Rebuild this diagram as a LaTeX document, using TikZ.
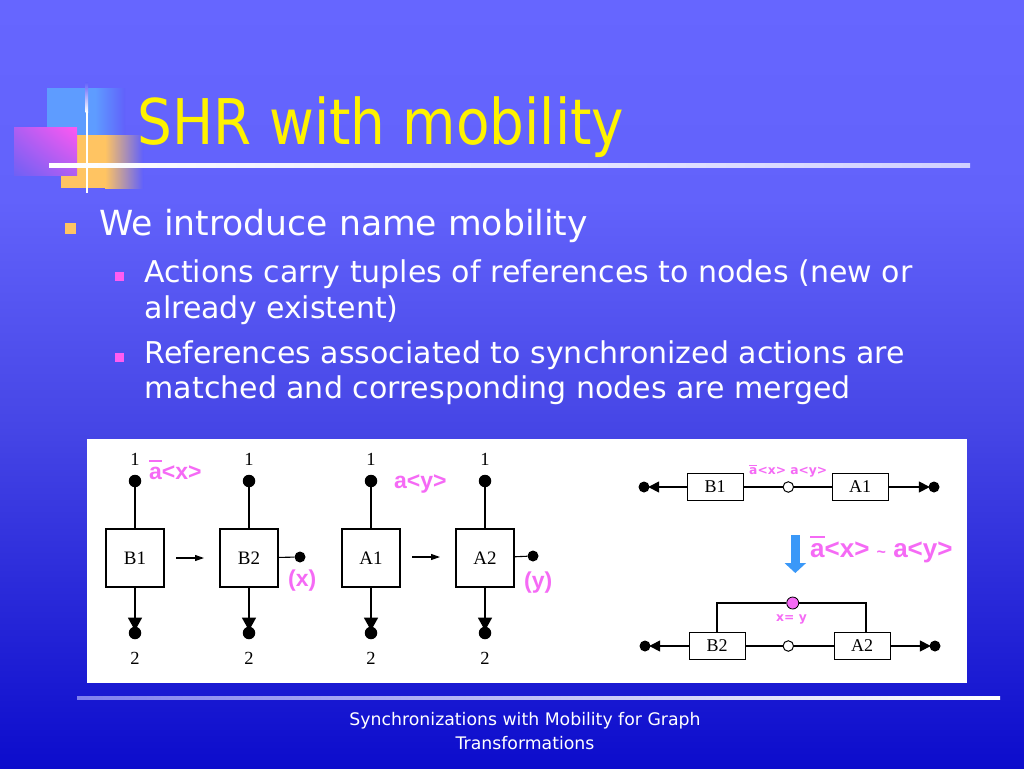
\documentclass[tikz,border=0pt]{standalone}
\usepackage{fontspec}
\setmainfont{DejaVu Sans}
\newfontfamily\titlefont{DejaVu Sans}[FakeStretch=0.87]
\newfontfamily\arialfont{Liberation Sans}
\newfontfamily\serfont{Liberation Serif}
\usetikzlibrary{arrows.meta,calc,shadings}

\definecolor{bgtop}{HTML}{6666FF}
\definecolor{bgup}{HTML}{6262FB}
\definecolor{bgmid}{HTML}{4646E6}
\definecolor{bgbot}{HTML}{0C0CCC}
\definecolor{bgdeco}{HTML}{6161FB}
\definecolor{decblue}{HTML}{5E9CFF}
\definecolor{decorange}{HTML}{FFC462}
\definecolor{pinkA}{HTML}{FF58F2}
\definecolor{pinkB}{HTML}{B05EF2}
\definecolor{pinkC}{HTML}{7060F4}
\definecolor{labmag}{HTML}{F56AF5}
\definecolor{bulmag}{HTML}{FF5CF2}
\definecolor{arrblue}{HTML}{3A98F8}
\definecolor{footline}{HTML}{8080EE}
\definecolor{lineend}{HTML}{D0D0FF}

\pgfdeclareverticalshading{slidebg}{100bp}{color(0bp)=(bgbot); color(25bp)=(bgbot); color(47.3bp)=(bgmid); color(62bp)=(bgup); color(75bp)=(bgtop); color(100bp)=(bgtop)}

\newcommand\oaw[1]{\leavevmode\rlap{\rule[0.74em]{#1}{0.07em}}a}

\tikzset{
  lbox/.style={draw, line width=1.2pt, minimum size=58pt, inner sep=0pt, font=\serfont\fontsize{19}{19}\selectfont},
  ldot/.style={circle, fill=black, inner sep=0pt, minimum size=12.5pt},
  sdot/.style={circle, fill=black, inner sep=0pt, minimum size=11pt},
  numlab/.style={inner sep=0pt, font=\serfont\fontsize{18.5}{18.5}\selectfont},
  thinline/.style={line width=1.1pt},
  downarr/.style={line width=1.8pt, shorten >=-4pt, -{Triangle[width=14pt,length=13pt]}},
  midarr/.style={line width=1.1pt, -{Triangle[width=6pt,length=9pt]}},
  mlab/.style={inner sep=0pt, text=labmag, font=\arialfont\bfseries\fontsize{23}{23}\selectfont},
  biglab/.style={inner sep=0pt, text=labmag, font=\arialfont\bfseries\fontsize{26}{26}\selectfont},
  smlab/.style={inner sep=0pt, text=labmag, font=\bfseries\fontsize{12.3}{12.3}\selectfont},
  rbox/.style={draw, line width=1pt, minimum width=56pt, minimum height=27.5pt, inner sep=0pt, font=\serfont\fontsize{18}{18}\selectfont},
  rdot/.style={circle, fill=black, inner sep=0pt, minimum size=11pt},
  ocirc/.style={circle, draw, fill=white, line width=1pt, inner sep=0pt, minimum size=10.5pt},
  rarr/.style={line width=1.5pt, shorten >=-1.5pt, -{Triangle[width=11pt,length=11pt]}},
  mdotst/.style={circle, draw, fill=labmag, line width=0.8pt, minimum size=12pt, inner sep=0pt},
  bodyA/.style={anchor=base west, inner sep=0pt, text=white, font=\fontsize{34.6}{40}\selectfont},
  bodyB/.style={anchor=base west, inner sep=0pt, text=white, font=\fontsize{30}{36}\selectfont},
  footst/.style={anchor=base, inner sep=0pt, text=white, font=\fontsize{17.3}{20}\selectfont},
}

\begin{document}
\begin{tikzpicture}[x=1pt,y=-1pt]
\useasboundingbox (0,0) rectangle (1024,768);
\fill[shading=slidebg] (0,0) rectangle (1024,768);

% title decoration
\fill[decblue] (47,88) rectangle (95,136);
\shade[left color=decblue, right color=bgdeco] (95,88) rectangle (125,136);
\fill[decorange] (61,135) rectangle (105,188);
\shade[left color=decorange, right color=bgdeco] (105,135) rectangle (143,188);
\shade[upper right=pinkA, upper left=pinkB, lower right=pinkB, lower left=pinkC] (14,127) rectangle (77,175);
\shade[top color=bgdeco, bottom color=white] (85.5,82) rectangle (88,112);
\fill[white] (85.5,112) rectangle (88,193);
\shade[left color=white, middle color=white, right color=lineend] (49,163.5) rectangle (970,167);

% title
\node[anchor=base west, inner sep=0pt, text=yellow, font=\titlefont\fontsize{63}{63}\selectfont] (title) at (137.5,144) {SHR with mobility};

% bullets
\node[fill=decorange, minimum size=11pt, inner sep=0pt] (bul1) at (70.3,228.5) {};
\node[bodyA] (t1) at (99.5,235) {We introduce name mobility};
\node[fill=bulmag, minimum size=9pt, inner sep=0pt] (bul2) at (119.5,276.5) {};
\node[bodyB] (t2a) at (144.5,282) {Actions carry tuples of references to nodes (new or};
\node[bodyB] (t2b) at (144.5,318) {already existent)};
\node[fill=bulmag, minimum size=9pt, inner sep=0pt] (bul3) at (119.5,357.5) {};
\node[bodyB] (t3a) at (144.5,363) {References associated to synchronized actions are};
\node[bodyB] (t3b) at (144.5,398) {matched and corresponding nodes are merged};

% white panel
\fill[white] (87,439) rectangle (967,683);

% left diagram
\node[lbox] (B1) at (135,558) {B1};
\node[lbox] (B2) at (249,558) {B2};
\node[lbox] (A1) at (371,558) {A1};
\node[lbox] (A2) at (485,558) {A2};
\foreach \n/\x in {B1/135, B2/249, A1/371, A2/485} {
  \node[ldot] (\n t) at (\x,481) {};
  \node[ldot] (\n b) at (\x,633) {};
  \node[numlab] (\n one) at (\x,459) {1};
  \node[numlab] (\n two) at (\x,658.5) {2};
  \draw[thinline] (\n t) -- (\n);
  \draw[downarr] (\n) -- (\n b);
}
\coordinate (m1s) at (176,558);
\coordinate (m1e) at (204,558);
\coordinate (m2s) at (412,557);
\coordinate (m2e) at (440,557);
\draw[midarr] (m1s) -- (m1e);
\draw[midarr] (m2s) -- (m2e);
\node[sdot] (B2x) at (300,557) {};
\node[sdot] (A2y) at (533,556) {};
\draw[thinline] (B2) -- (B2x);
\draw[thinline] (A2) -- (A2y);
\node[mlab, anchor=base west] (lax) at (149,479) {\oaw{0.55em}<x>};
\node[mlab, anchor=base west] (lay) at (394,488) {a<y>};
\node[mlab, anchor=base west] (lx) at (288,586) {(x)};
\node[mlab, anchor=base west] (ly) at (524,588) {(y)};

% right diagram, top row
\node[rbox] (RB1) at (715,487) {B1};
\node[rbox] (RA1) at (860,487) {A1};
\node[ocirc] (ro1) at (788.3,487) {};
\node[rdot] (rl1) at (644,487) {};
\node[rdot] (rr1) at (934,487) {};
\draw[thinline] (RB1) -- (ro1);
\draw[thinline] (ro1) -- (RA1);
\draw[rarr] (RB1) -- (rl1);
\draw[rarr] (RA1) -- (rr1);
\node[smlab, anchor=base west] (rlab) at (749,474.5) {\oaw{0.6em}<x> a<y>};

% blue arrow and its label
\coordinate (ba1) at (795.3,535);
\coordinate (ba2) at (795.3,573);
\draw[arrblue, line width=9.5pt, -{Triangle[width=21pt,length=10pt]}] (ba1) -- (ba2);
\node[biglab, anchor=base west] (sync) at (810,557) {\oaw{0.55em}<x> {\fontsize{16}{16}\selectfont\textasciitilde} a<y>};

% right diagram, bottom row
\node[rbox] (RB2) at (717,646) {B2};
\node[rbox] (RA2) at (862,646) {A2};
\node[ocirc] (ro2) at (788.3,646) {};
\node[rdot] (rl2) at (645,646) {};
\node[rdot] (rr2) at (935,646) {};
\draw[thinline] (RB2) -- (ro2);
\draw[thinline] (ro2) -- (RA2);
\draw[rarr] (RB2) -- (rl2);
\draw[rarr] (RA2) -- (rr2);
\node[mdotst] (mdot) at (792.7,603) {};
\coordinate (a2top) at ($(RA2.north)+(4,0)$);
\draw[thinline] (RB2.north) |- (mdot);
\draw[thinline] (mdot) -| (a2top);
\node[smlab, anchor=base] (xeqy) at (791.5,621) {x= y};

% footer
\shade[left color=footline, middle color=white, right color=white] (77,696) rectangle (1000,699.5);
\node[footst] (foot1) at (525,725) {Synchronizations with Mobility for Graph};
\node[footst] (foot2) at (525,749) {Transformations};
\end{tikzpicture}
\end{document}
